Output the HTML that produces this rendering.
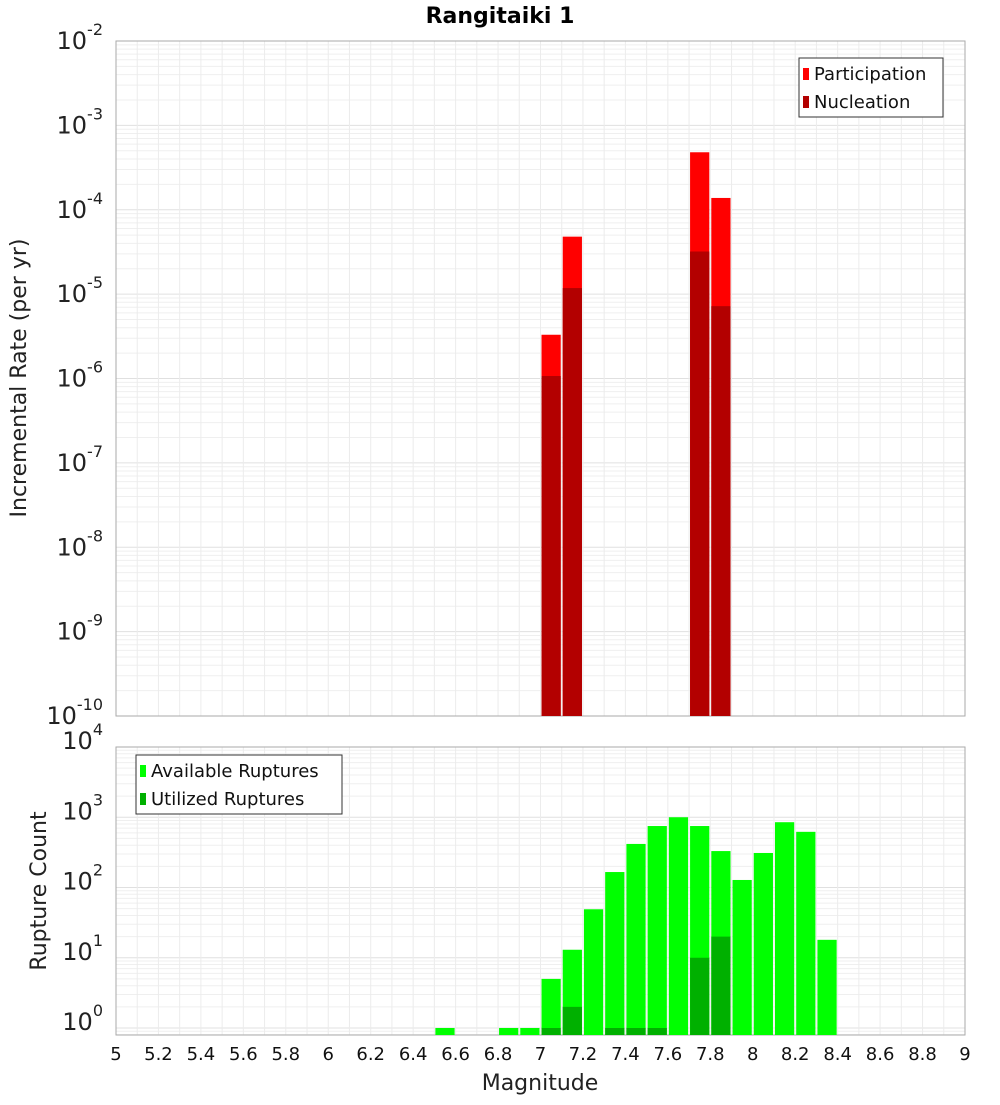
<!DOCTYPE html>
<html><head><meta charset="utf-8"><style>
body{margin:0;background:#fff;font-family:"Liberation Sans","DejaVu Sans",sans-serif}
svg text{font-family:"DejaVu Sans","Liberation Sans",sans-serif}
</style></head><body>
<svg id="c" width="1000" height="1100" xmlns="http://www.w3.org/2000/svg"></svg>
<script>
const binCenters=[7.05,7.15,7.75,7.85];
const participation=[3.3e-6,4.8e-5,4.8e-4,1.38e-4];
const nucleation=[1.07e-6,1.18e-5,3.2e-5,7.2e-6];
const countBins=[6.55,6.85,6.95,7.05,7.15,7.25,7.35,7.45,7.55,7.65,7.75,7.85,7.95,8.05,8.15,8.25,8.35];
const available=[1,1,1,5,13,49,166,417,750,1000,750,330,128,310,850,620,18];
const utilized=[0,0,0,1,2,0,1,1,1,0,10,20,0,0,0,0,0];
const xTicks=[5,5.2,5.4,5.6,5.8,6,6.2,6.4,6.6,6.8,7,7.2,7.4,7.6,7.8,8,8.2,8.4,8.6,8.8,9];

const svg=document.getElementById('c');const NS='http://www.w3.org/2000/svg';
function el(t,a,p){const e=document.createElementNS(NS,t);for(const k in a)e.setAttribute(k,a[k]);(p||svg).appendChild(e);return e;}
const X0=116,X1=965;const xs=m=>X0+(m-5)/4*(X1-X0);
const T1=41,B1=716;const y1=v=>T1+(-2-Math.log10(v))/8*(B1-T1);
const T2=747,B2=1035;const y2=v=>T2+(4-Math.log10(v))*70.25;

function grid(top,bot,ylo,yhi,yf){
  const g=el('g',{});
  
  
  for(let d=ylo;d<yhi;d++){for(let k=1;k<10;k++){const v=k*Math.pow(10,d);const y=yf(v);if(y<top-0.5||y>bot+0.5)continue;
    el('line',{x1:X0,x2:X1,y1:y,y2:y,stroke:k==1?'#e0e0e0':'#efefef','stroke-width':1},g);}}
  for(let m=5;m<=9.001;m+=0.1){const x=xs(m);el('line',{x1:x,x2:x,y1:top,y2:bot,stroke:'#ececec','stroke-width':1},g);}
}
grid(T1,B1,-10,-2,y1);grid(T2,B2,-1,4,y2);
el('rect',{x:X0,y:T1,width:X1-X0,height:B1-T1,fill:'none',stroke:'#aaa'});
el('rect',{x:X0,y:T2,width:X1-X0,height:B2-T2,fill:'none',stroke:'#aaa'});

// top bars
binCenters.forEach((m,i)=>{
  const xl=xs(m-0.05)+1,w=xs(m+0.05)-xs(m-0.05)-2;
  const r=el('rect',{x:xl,y:y1(participation[i]),width:w,height:B1-y1(participation[i]),fill:'#ff0000'});
  
  
  const n=el('rect',{x:xl,y:y1(nucleation[i]),width:w,height:B1-y1(nucleation[i]),fill:'#b30000'});
  
  
});
// bottom bars
countBins.forEach((m,i)=>{
  const xl=xs(m-0.05)+1,w=xs(m+0.05)-xs(m-0.05)-2;
  if(available[i]>0){const r=el('rect',{x:xl,y:y2(available[i]),width:w,height:B2-y2(available[i]),fill:'#00ff00'});
  
  }
  if(utilized[i]>0){const r=el('rect',{x:xl,y:y2(utilized[i]),width:w,height:B2-y2(utilized[i]),fill:'#00b000'});
  
  }
});
// y labels
function ylab(v,exp,y){const t=el('text',{x:103,y:y+8,'font-size':24,'text-anchor':'end',fill:'#222'});
  
  
  t.textContent='10';const s=el('tspan',{dy:-14,'font-size':16},t);s.textContent=exp;}
for(let d=-10;d<=-2;d++)ylab(0,String(d),y1(Math.pow(10,d)));
for(let d=0;d<=4;d++)ylab(0,String(d),y2(Math.pow(10,d))-6);
xTicks.forEach(m=>{const t=el('text',{x:xs(m),y:1060,'font-size':18,'text-anchor':'middle',fill:'#111'});
  
  
  t.textContent=String(m);});
function txt(s,a,name){const t=el('text',a);t.textContent=s;
  
  return t;}
txt('Rangitaiki 1',{x:500,y:23,'font-size':22,'font-weight':'bold','text-anchor':'middle'},'chart-title');
txt('Magnitude',{x:540,y:1090,'font-size':22,'text-anchor':'middle',fill:'#222'},'x-axis-title');
txt('Incremental Rate (per yr)',{x:26,y:378,'font-size':22,'text-anchor':'middle',fill:'#222',transform:'rotate(-90 26 378)'},'top-y-axis-title');
txt('Rupture Count',{x:46,y:891,'font-size':22,'text-anchor':'middle',fill:'#222',transform:'rotate(-90 46 891)'},'bottom-y-axis-title');
// legends
function legend(x,y,w,items,name){const g=el('g',{});
  el('rect',{x:x,y:y,width:w,height:59,fill:'#fff',stroke:'#333'},g);
  items.forEach((it,i)=>{el('rect',{x:x+4,y:y+10+i*28,width:6,height:12,fill:it[1]},g);
    const t=el('text',{x:x+15,y:y+22+i*28,'font-size':18,fill:'#111'},g);t.textContent=it[0];});}
legend(799,58,144,[['Participation','#ff0000'],['Nucleation','#b30000']],'top-legend');
legend(136,755,206,[['Available Ruptures','#00ff00'],['Utilized Ruptures','#00b000']],'bottom-legend');
</script>
</body></html>
